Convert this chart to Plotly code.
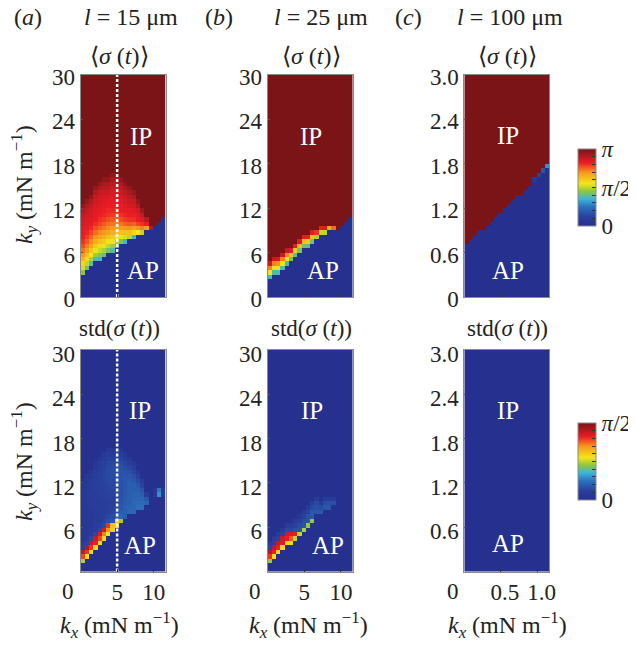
import numpy as np
import plotly.graph_objects as go

# cell values are read off the picture, in percent of the colour bar's top
# each column: first coloured row, then the cells going up from that row
A_MEAN_BASE = [5, 6, 7, 8, 8, 9, 10, 10, 11, 12, 12, 13, 13, 14, 14, 15, 15, 16, 17, 18]
A_MEAN_CELLS = [
    [45, 52, 58, 64, 69, 73, 77, 80, 82, 83, 84, 85, 86, 88, 91, 95],
    [42, 50, 57, 63, 68, 72, 76, 79, 81, 83, 84, 85, 86, 88, 91, 95],
    [40, 48, 55, 61, 67, 71, 75, 78, 81, 83, 84, 85, 86, 88, 91, 95],
    [38, 47, 54, 60, 65, 70, 74, 77, 80, 82, 83, 84, 85, 86, 88, 91, 95],
    [36, 44, 51, 57, 62, 67, 71, 75, 78, 80, 82, 83, 84, 85, 86, 88, 91, 95],
    [40, 48, 54, 60, 65, 69, 73, 76, 79, 81, 82, 83, 84, 85, 87, 89, 92, 96],
    [43, 50, 56, 62, 67, 71, 74, 77, 80, 81, 82, 83, 85, 87, 89, 92, 96],
    [38, 47, 54, 60, 65, 69, 73, 76, 79, 81, 82, 83, 84, 85, 87, 89, 92, 96],
    [36, 48, 55, 62, 67, 71, 75, 78, 80, 82, 83, 84, 85, 87, 89, 92, 96],
    [44, 54, 62, 68, 73, 77, 80, 82, 83, 84, 85, 87, 89, 92, 96],
    [36, 52, 62, 69, 75, 79, 81, 83, 84, 85, 87, 89, 92, 96],
    [50, 62, 70, 76, 80, 82, 83, 85, 87, 89, 92, 96],
    [36, 58, 68, 75, 80, 82, 84, 86, 88, 91, 95],
    [55, 70, 78, 82, 84, 86, 90, 95],
    [50, 72, 80, 84, 88, 94],
    [68, 82, 90],
    [90],
    [], [], [],
]

A_STD_BASE = [2, 3, 4, 5, 6, 7, 8, 9, 10, 11, 12, 13, 13, 14, 14, 15, 15, 17, 17, 17]
A_STD_CELLS = [
    [48, 78, 88, 12, 8, 5, 5, 5, 5, 5, 5, 6, 6, 6, 7, 7, 6, 5, 4],
    [56, 80, 90, 12, 8, 6, 6, 6, 6, 6, 6, 7, 7, 8, 8, 8, 7, 6, 5],
    [56, 80, 88, 14, 10, 8, 7, 7, 7, 7, 8, 8, 9, 9, 10, 10, 9, 7, 5],
    [58, 82, 86, 14, 10, 9, 8, 8, 8, 9, 9, 10, 10, 11, 11, 11, 10, 9, 7, 5],
    [58, 78, 85, 14, 11, 10, 9, 9, 9, 10, 10, 11, 11, 12, 12, 12, 11, 10, 8, 5],
    [58, 72, 85, 15, 12, 11, 10, 10, 10, 11, 11, 12, 12, 13, 13, 13, 12, 11, 9, 6],
    [56, 70, 80, 16, 13, 12, 11, 11, 12, 12, 13, 13, 14, 14, 14, 14, 13, 12, 9, 6],
    [60, 62, 18, 15, 13, 12, 12, 12, 13, 13, 14, 14, 15, 15, 15, 14, 12, 10, 6],
    [58, 62, 20, 16, 14, 14, 14, 14, 15, 15, 16, 16, 16, 16, 15, 14, 12, 10, 6],
    [47, 22, 20, 18, 17, 16, 16, 16, 17, 17, 17, 17, 16, 15, 13, 10, 6],
    [20, 20, 20, 19, 18, 18, 18, 18, 18, 18, 17, 15, 13, 10, 6],
    [22, 21, 20, 20, 20, 20, 20, 19, 18, 16, 13, 10, 6],
    [22, 22, 22, 21, 21, 20, 20, 18, 16, 13, 10, 6],
    [24, 23, 22, 21, 20, 18, 15, 11, 7],
    [24, 23, 22, 20, 17, 13, 8],
    [22, 18, 10],
    [],
    [7, 7],
    [30, 26],
    [7, 7],
]

B_MEAN_BASE = [4, 5, 5, 6, 7, 8, 9, 10, 11, 11, 12, 13, 14, 14, 15, 15, 15, 16, 17, 18]
B_MEAN_CELLS = [
    [36, 56, 72, 88],
    [38, 56, 72, 88],
    [38, 54, 70, 86],
    [38, 54, 72, 88],
    [38, 56, 72, 88],
    [42, 62, 84],
    [40, 60, 82],
    [42, 62, 84],
    [42, 62, 84],
    [40, 60, 82],
    [42, 62, 84],
    [48, 80],
    [50, 82],
    [50, 84],
    [66],
    [74],
    [],
    [], [], [],
]

B_STD_BASE = [2, 3, 4, 5, 6, 6, 7, 8, 9, 10, 11, 13, 13, 14, 14, 15, 15, 15, 15, 15]
B_STD_CELLS = [
    [46, 80, 90, 12, 8],
    [56, 82, 88, 12, 8],
    [58, 82, 88, 12, 8],
    [58, 84, 86, 12, 8],
    [58, 82, 86, 14, 9],
    [58, 76, 84, 14, 9],
    [50, 82, 16, 12, 8],
    [50, 17, 15, 11, 7],
    [48, 17, 15, 12, 8],
    [46, 17, 16, 13, 8],
    [46, 18, 18, 14, 9],
    [18, 16, 14, 8],
    [18, 15, 10],
    [18, 15, 8],
    [18, 16, 8],
    [16, 8],
    [], [], [], [],
]

C_MEAN_BASE = [12, 13, 14, 15, 15, 16, 17, 18, 19, 20, 21, 22, 23, 23, 24, 25, 26, 27, 28, 29]
C_MEAN_EDGE = [[], [], [], [], [], [], [], [], [], [], [], [], [], [], [], [], [8], [12], [18], [30]]

C_STD_BASE = [0] * 20
C_STD_CELLS = [[] for _ in C_STD_BASE]

X_TICKS_AB = [5, 10]
X_TICKS_C = [0.5, 1.0]
X_TEXT_C = ["0.5", "1.0"]
Y_TICKS_AB = [0, 6, 12, 18, 24, 30]
Y_TICKS_C = [0, 0.6, 1.2, 1.8, 2.4, 3.0]
Y_TEXT_C = ["0", "0.6", "1.2", "1.8", "2.4", "3.0"]

N_ROWS = 50
N_COLS = 20
SERIF = "Liberation Serif"
# the page keeps an 8 px body margin, so the figure is a bit smaller than the window
PAGE = 8
W, H = 636 - PAGE, 647 - 2 * PAGE


def build_grid(base, cells, above):
    grid = np.zeros((N_ROWS, N_COLS))
    for j in range(N_COLS):
        top = base[j] + len(cells[j])
        grid[base[j]:top, j] = cells[j]
        grid[top:, j] = above
    return grid


def px_x(p):
    return (p - PAGE) / W


def px_y(p):
    return 1 - (p - PAGE) / H


COLORS = [
    [0.0, "#25308f"], [0.12, "#29409c"], [0.25, "#2b72bc"], [0.35, "#3cb4dc"],
    [0.45, "#8cc63f"], [0.55, "#f4e61a"], [0.70, "#f7941d"], [0.82, "#ed1c24"],
    [0.90, "#b51a20"], [1.0, "#7a1416"],
]

panels = [
    (A_MEAN_BASE, A_MEAN_CELLS, 100, 1, 80.5, 75, 297, np.pi),
    (B_MEAN_BASE, B_MEAN_CELLS, 100, 1, 267.7, 75, 297, np.pi),
    (C_MEAN_BASE, C_MEAN_EDGE, 100, 0.1, 464.3, 75, 297, np.pi),
    (A_STD_BASE, A_STD_CELLS, 0, 1, 80.5, 350, 571.5, np.pi / 2),
    (B_STD_BASE, B_STD_CELLS, 0, 1, 267.7, 350, 571.5, np.pi / 2),
    (C_STD_BASE, C_STD_CELLS, 0, 0.1, 464.3, 350, 571.5, np.pi / 2),
]

fig = go.Figure()
axes = {}
for n, (base, cells, above, scale, left, top, bottom, zmax) in enumerate(panels, start=1):
    kx = (np.arange(N_COLS) + 0.5) * 0.58 * scale
    ky = (np.arange(N_ROWS) + 0.5) * 0.6 * scale
    fig.add_trace(go.Heatmap(
        x=kx, y=ky, z=build_grid(base, cells, above) / 100 * zmax,
        coloraxis="coloraxis" if n <= 3 else "coloraxis2",
        xaxis=f"x{n}", yaxis=f"y{n}", hoverinfo="skip",
    ))
    is_c = scale != 1
    is_top = n <= 3
    axes[f"xaxis{n}"] = dict(
        domain=[px_x(left), px_x(left + 85)], anchor=f"y{n}",
        range=[0, 11.6 * scale], showgrid=False, zeroline=False,
        showline=True, mirror=True, linecolor="#8a8a8a", linewidth=1,
        ticks="inside", ticklen=3, tickcolor="#333333",
        tickvals=X_TICKS_C if is_c else X_TICKS_AB,
        ticktext=X_TEXT_C if is_c else ["5", "10"],
        showticklabels=not is_top, ticklabelshift=4 if is_c else 0,
        tickfont=dict(family=SERIF, size=23, color="#222222"),
    )
    yvals = Y_TICKS_C if is_c else Y_TICKS_AB
    ytext = Y_TEXT_C if is_c else [str(v) for v in Y_TICKS_AB]
    if not is_top:
        yvals, ytext = yvals[1:], ytext[1:]
    axes[f"yaxis{n}"] = dict(
        domain=[px_y(bottom), px_y(top)], anchor=f"x{n}",
        range=[0, 30 * scale], showgrid=False, zeroline=False,
        showline=True, mirror=True, linecolor="#8a8a8a", linewidth=1,
        ticks="inside", ticklen=2, tickcolor="#555555",
        tickvals=yvals, ticktext=ytext,
        ticklabelshift=2 if is_top else 4,
        tickfont=dict(family=SERIF, size=23, color="#222222"),
    )

# dotted cut at kx = 5 in the l = 15 panels
for n in (1, 4):
    fig.add_trace(go.Scatter(
        x=[5, 5], y=[0, 30], mode="lines", xaxis=f"x{n}", yaxis=f"y{n}",
        line=dict(color="white", width=2.5, dash="3px,2px"),
        showlegend=False, hoverinfo="skip",
    ))


def label(x, y, text, size=24, color="#222222", angle=0):
    fig.add_annotation(
        x=px_x(x), y=px_y(y), xref="paper", yref="paper", text=text,
        showarrow=False, textangle=angle, xanchor="center", yanchor="middle",
        font=dict(family=SERIF, size=size, color=color),
    )


KX_TEXT = "<i>k</i><sub><i>x</i></sub> (mN m<sup>−1</sup>)"
KY_TEXT = "<i>k</i><sub><i>y</i></sub> (mN m<sup>−1</sup>)"
MEAN_TEXT = "⟨<i>σ</i> (<i>t</i>)⟩"
STD_TEXT = "std(<i>σ</i> (<i>t</i>))"

label(28, 17, "(<i>a</i>)")
label(219, 17, "(<i>b</i>)")
label(408, 17, "(<i>c</i>)")
label(131, 17, "<i>l</i> = 15 μm")
label(321, 17, "<i>l</i> = 25 μm")
label(510, 17, "<i>l</i> = 100 μm")
for cx in (120, 311, 507):
    label(cx, 56, MEAN_TEXT)
    label(cx, 328, STD_TEXT, size=23)
for cx in (120, 308, 507):
    label(cx, 625, KX_TEXT)
for cx in (68, 255, 453):
    label(cx, 591, "0", size=23)
label(24, 185, KY_TEXT, angle=-90)
label(24, 462, KY_TEXT, angle=-90)

for x, y, t in [(141, 136, "IP"), (143, 270, "AP"), (140, 411, "IP"), (140, 545, "AP"),
                (311, 137, "IP"), (323, 270, "AP"), (312, 411, "IP"), (328, 545, "AP"),
                (508, 135, "IP"), (508, 270, "AP"), (508, 410, "IP"), (508, 543, "AP")]:
    label(x, y, t, size=25, color="white")


def colorbar(top, zmax, names):
    return dict(
        x=px_x(578), xanchor="left", xpad=0, y=px_y(top), yanchor="top", ypad=0,
        len=77, lenmode="pixels", thickness=18, thicknessmode="pixels",
        outlinewidth=1, outlinecolor="#8a8a8a",
        ticks="inside", ticklen=4, tickcolor="#333333",
        tickvals=[zmax * i / 10 for i in range(11)],
        ticktext=[names.get(i, "") for i in range(11)],
        tickfont=dict(family=SERIF, size=23, color="#222222"),
    )


fig.update_layout(
    width=W, height=H, margin=dict(l=0, r=0, t=0, b=0, autoexpand=False),
    paper_bgcolor="white", plot_bgcolor="white", showlegend=False,
    coloraxis=dict(colorscale=COLORS, cmin=0, cmax=np.pi,
                   colorbar=colorbar(149, np.pi, {0: "0", 5: "<i>π</i>/2", 10: "<i>π</i>"})),
    coloraxis2=dict(colorscale=COLORS, cmin=0, cmax=np.pi / 2,
                    colorbar=colorbar(423, np.pi / 2, {0: "0", 10: "<i>π</i>/2"})),
    **axes,
)

fig.write_html("out.html")
